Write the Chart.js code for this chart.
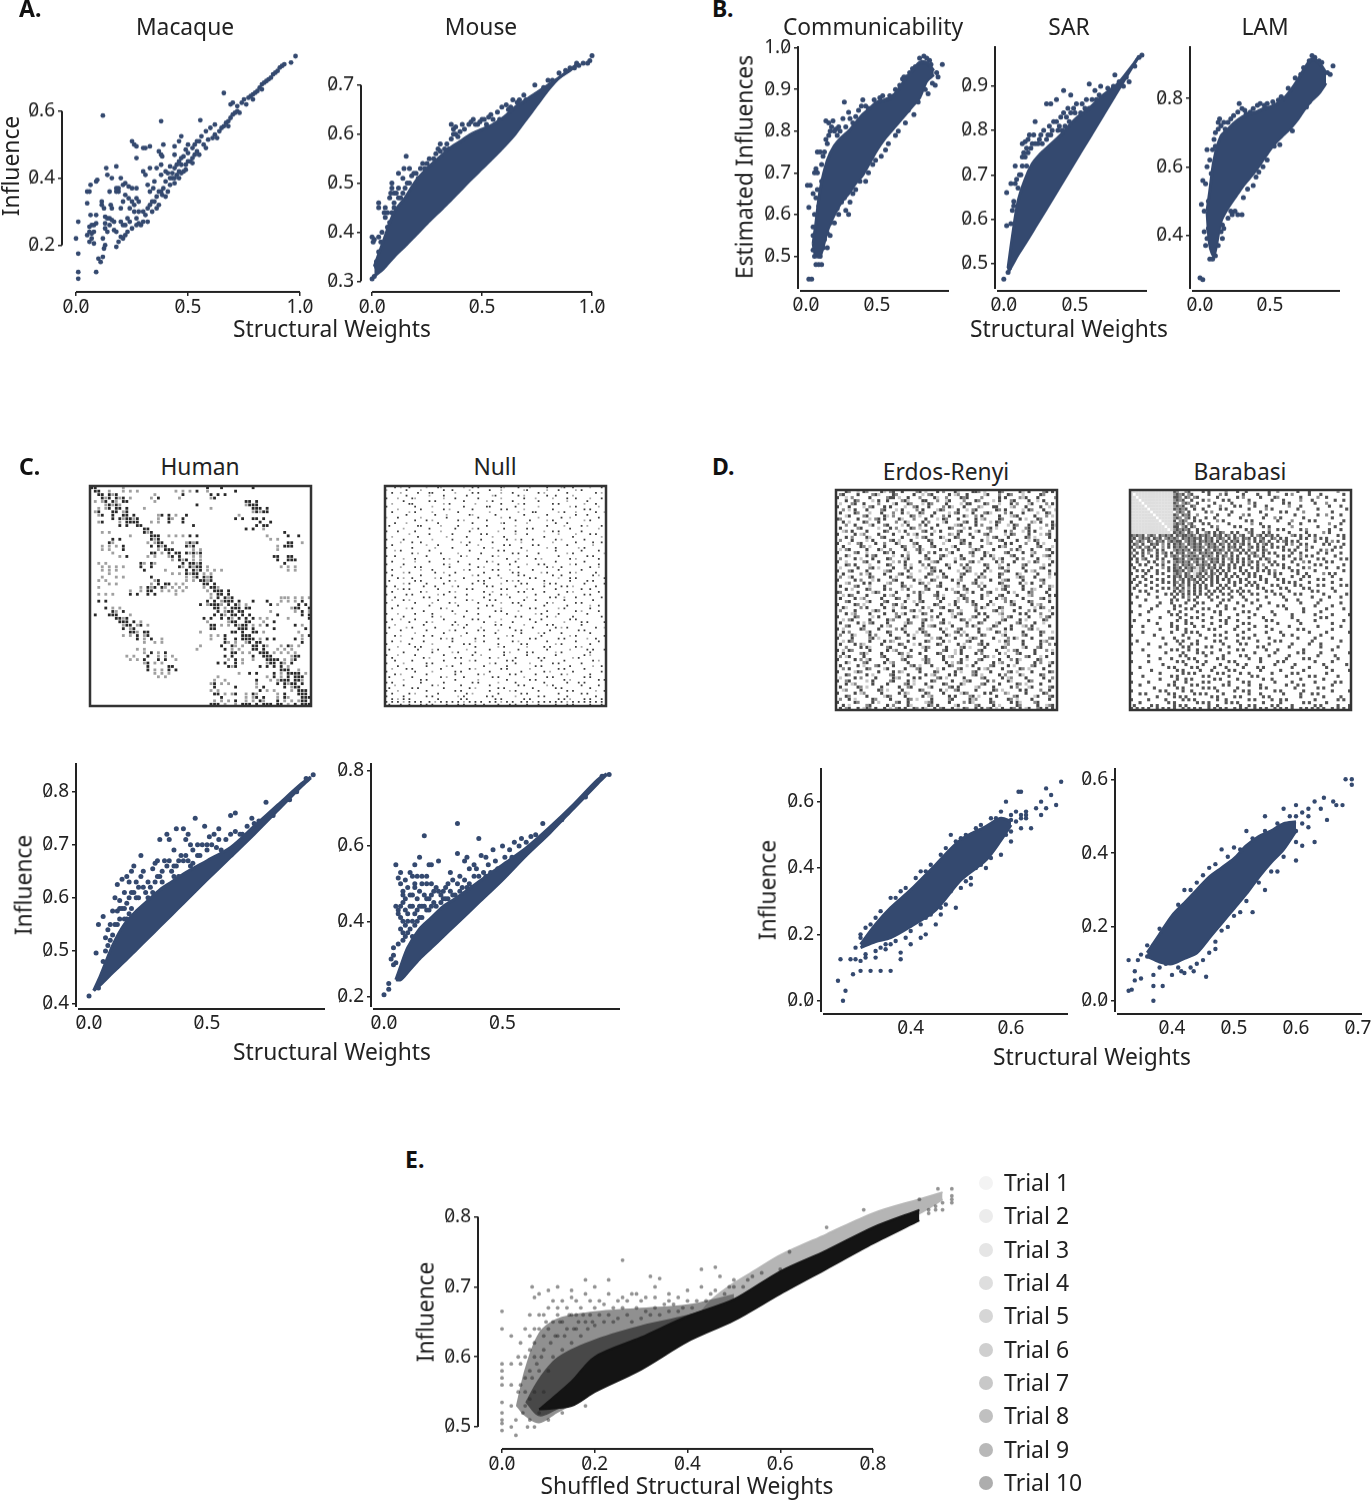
<!DOCTYPE html>
<html>
<head>
<meta charset="utf-8">
<script src="https://cdn.jsdelivr.net/npm/chart.js@4/dist/chart.umd.js"></script>
<style>
  html, body { margin: 0; background: #fff; }
  #page { position: relative; width: 1371px; height: 1500px; overflow: hidden; font-family: "Noto Sans", sans-serif; color: #222; }
  #page canvas { position: absolute; }
  .txt { position: absolute; white-space: nowrap; transform: translate(-50%, -50%); font-size: 22.8px; line-height: 1; }
  .tag { position: absolute; font-size: 23px; font-weight: 700; line-height: 1; color: #111; }
  .dot { position: absolute; width: 14px; height: 14px; border-radius: 50%; }
  .trial { position: absolute; font-size: 23px; line-height: 1; }
</style>
</head>
<body>
<div id="page"></div>
<script>
/* ---- panel A ---- */
const macaquePoints = [[.01,.27],[0,.22],[.01,.175],[.01,.12],[.01,.1],[.09,.12],[.1,.16],[.11,.15],[.12,.165],[.125,.19],[.13,.2],[.05,.23],[.06,.24],[.07,.235],[.08,.24],[.06,.21],[.07,.22],[.08,.205],[.12,.22],[.06,.255],[.07,.26],[.08,.26],[.09,.265],[.065,.29],[.09,.29],[.05,.325],[.05,.36],[.06,.36],[.065,.38],[.09,.39],[.095,.395],[.115,.33],[.115,.32],[.125,.31],[.13,.285],[.14,.28],[.15,.28],[.13,.265],[.13,.25],[.14,.24],[.15,.26],[.16,.275],[.17,.27],[.17,.245],[.18,.24],[.16,.31],[.155,.32],[.15,.36],[.135,.43],[.14,.41],[.16,.4],[.18,.435],[.2,.4],[.18,.37],[.19,.36],[.19,.37],[.18,.36],[.2,.27],[.21,.26],[.22,.26],[.23,.28],[.24,.27],[.2,.225],[.21,.22],[.22,.23],[.23,.24],[.18,.195],[.19,.21],[.2,.31],[.21,.33],[.22,.35],[.21,.38],[.22,.385],[.235,.375],[.25,.37],[.27,.37],[.235,.34],[.25,.33],[.26,.32],[.27,.34],[.28,.33],[.24,.31],[.26,.30],[.27,.28],[.28,.265],[.29,.26],[.3,.3],[.31,.29],[.32,.27],[.33,.32],[.34,.3],[.35,.33],[.36,.31],[.37,.32],[.33,.36],[.345,.37],[.32,.38],[.35,.39],[.37,.36],[.385,.35],[.4,.345],[.39,.37],[.41,.36],[.42,.38],[.4,.39],[.43,.40],[.44,.385],[.45,.41],[.46,.4],[.47,.415],[.48,.42],[.49,.44],[.5,.45],[.51,.45],[.52,.46],[.53,.47],[.54,.48],[.47,.44],[.5,.475],[.52,.49],[.38,.41],[.4,.42],[.42,.435],[.36,.43],[.38,.44],[.33,.43],[.31,.41],[.3,.42],[.27,.46],[.25,.51],[.26,.50],[.27,.495],[.3,.49],[.31,.49],[.33,.495],[.38,.47],[.37,.48],[.385,.465],[.39,.5],[.44,.495],[.46,.51],[.47,.525],[.44,.47],[.49,.485],[.12,.587],[.38,.57],[.555,.573],[.66,.654],[.56,.525],[.58,.54],[.6,.55],[.62,.56],[.55,.51],[.57,.5],[.59,.515],[.61,.52],[.62,.53],[.64,.54],[.65,.55],[.66,.555],[.67,.565],[.68,.57],[.69,.58],[.7,.59],[.71,.595],[.72,.6],[.69,.62],[.7,.625],[.72,.615],[.74,.625],[.75,.635],[.77,.64],[.78,.645],[.79,.65],[.8,.655],[.81,.66],[.82,.67],[.83,.68],[.84,.685],[.85,.69],[.86,.695],[.87,.7],[.88,.71],[.89,.715],[.9,.72],[.91,.73],[.92,.735],[.93,.74],[.96,.745],[.98,.764],[.41,.415],[.42,.40],[.43,.415],[.44,.43],[.45,.44],[.46,.45],[.47,.46],[.48,.465],[.5,.5],[.54,.51],[.53,.5],[.83,.665],[.79,.635],[.76,.62],[.73,.595],[.68,.555],[.63,.52],[.58,.49],[.52,.445],[.55,.47],[.49,.425],[.46,.42],[.44,.4],[.34,.33],[.36,.345],[.38,.36],[.3,.27],[.32,.31],[.28,.3],[.25,.25],[.27,.26]];
const mouseBandX = [.01,.05,.1,.15,.2,.25,.3,.35,.4,.45,.5,.55,.6,.65,.7,.75,.8,.85,.9,.94];
const mouseTop = [.33,.38,.44,.47,.505,.53,.55,.57,.585,.6,.61,.62,.635,.655,.67,.685,.7,.715,.732,.745];
const mouseBottom = [.31,.325,.35,.372,.395,.418,.44,.462,.485,.508,.53,.552,.575,.6,.63,.66,.69,.715,.73,.745];
const mousePoints = [[0,.305],[.01,.31],[0,.39],[.01,.385],[.005,.38],[.03,.39],[.04,.38],[.03,.36],[.045,.40],[.06,.43],[.055,.44],[.03,.45],[.03,.46],[.09,.5],[.09,.49],[.085,.48],[.1,.46],[.1,.45],[.12,.47],[.13,.47],[.14,.46],[.13,.44],[.09,.44],[.12,.52],[.14,.51],[.145,.53],[.155,.555],[.17,.53],[.18,.515],[.15,.49],[.2,.52],[.21,.51],[.24,.53],[.25,.54],[.28,.55],[.3,.57],[.31,.565],[.33,.55],[.35,.57],[.36,.59],[.37,.61],[.36,.62],[.38,.6],[.39,.595],[.4,.605],[.42,.61],[.45,.625],[.46,.63],[.47,.62],[.5,.63],[.52,.62],[.54,.64],[.58,.63],[.62,.65],[.66,.665],[.67,.67],[.7,.67],[.72,.665],[.76,.68],[.78,.695],[.82,.71],[.88,.73],[.94,.74],[.99,.75],[1,.76],[.27,.53],[.18,.47],[.16,.46],[.22,.5],[.11,.42],[.08,.42],[.06,.38],[.05,.35],[.02,.34],[.02,.33],[.98,.745],[.96,.745],[.92,.735],[.43,.59],[.32,.55],[.26,.52],[.06,.45],[.07,.44],[.08,.47],[.1,.48],[.11,.48],[.12,.49],[.14,.48],[.16,.5],[.17,.5],[.19,.52],[.22,.53],[.23,.54],[.26,.55],[.29,.56],[.31,.58],[.33,.57],[.34,.58],[.37,.6],[.38,.615],[.41,.62],[.44,.62],[.48,.62],[.49,.625],[.51,.63],[.53,.635],[.55,.63],[.57,.645],[.59,.655],[.61,.66],[.63,.655],[.64,.67],[.69,.68],[.74,.7],[.8,.71],[.85,.725],[.9,.735],[.93,.745],[.08,.38],[.04,.35],[.07,.41],[.03,.33]];

/* ---- panel B ---- */
const commBandX = [.05,.07,.1,.15,.2,.25,.3,.35,.4,.45,.5,.55,.6,.65,.7,.75,.8,.85,.9];
const commTop = [.53,.58,.66,.73,.765,.785,.8,.82,.84,.855,.87,.875,.88,.9,.925,.945,.965,.965,.945];
const commBottom = [.53,.5,.5,.56,.6,.63,.65,.675,.695,.725,.755,.78,.8,.82,.84,.86,.88,.92,.935];
const commPoints = [[.02,.445],[.04,.445],[.09,.48],[.11,.48],[.07,.48],[.06,.5],[.05,.515],[.05,.55],[.05,.57],[.02,.617],[.03,.67],[.01,.67],[.05,.65],[.06,.7],[.07,.71],[.08,.7],[.08,.75],[.1,.75],[.11,.72],[.13,.75],[.14,.78],[.14,.825],[.19,.825],[.16,.82],[.18,.81],[.16,.79],[.2,.8],[.22,.79],[.23,.81],[.27,.87],[.3,.845],[.31,.83],[.33,.82],[.26,.83],[.4,.875],[.39,.86],[.46,.85],[.5,.86],[.57,.875],[.62,.885],[.68,.925],[.71,.93],[.75,.95],[.8,.975],[.83,.98],[.87,.97],[.92,.94],[.96,.96],[.91,.91],[.86,.89],[.79,.87],[.72,.85],[.65,.8],[.56,.755],[.47,.72],[.44,.7],[.38,.68],[.36,.69],[.33,.65],[.3,.6],[.27,.64],[.25,.63],[.22,.615],[.19,.6],[.17,.58],[.15,.555],[.17,.55],[.13,.54],[.12,.52],[.09,.52],[.08,.56],[.06,.6],[.07,.64],[.08,.66],[.09,.62],[.11,.68],[.12,.74],[.15,.77],[.17,.8],[.21,.805],[.24,.8],[.28,.81],[.35,.835],[.37,.85],[.42,.86],[.44,.855],[.48,.875],[.52,.88],[.54,.885],[.59,.885],[.63,.9],[.66,.91],[.69,.93],[.73,.94],[.77,.955],[.82,.965],[.85,.975],[.88,.96],[.93,.93],[.89,.915],[.84,.9],[.76,.84],[.7,.82],[.63,.79],[.58,.77],[.53,.74],[.49,.73],[.42,.68],[.35,.66],[.31,.63],[.28,.61],[.23,.6],[.2,.58],[.15,.52],[.1,.5],[.11,.53],[.14,.57],[.07,.55]];
const sarBandX = [.03,.06,.1,.15,.2,.25,.3,.4,.5,.6,.7,.8,.9,.94];
const sarTop = [.49,.56,.64,.69,.725,.745,.76,.79,.825,.85,.88,.905,.945,.963];
const sarBottom = [.48,.497,.52,.545,.571,.598,.624,.677,.73,.783,.836,.889,.942,.963];
const sarPoints = [[0,.465],[.03,.48],[.04,.49],[.02,.585],[.02,.66],[.05,.59],[.06,.62],[.07,.64],[.07,.63],[.05,.68],[.08,.68],[.08,.72],[.12,.70],[.13,.72],[.11,.70],[.16,.72],[.15,.74],[.13,.77],[.15,.775],[.17,.78],[.18,.79],[.16,.76],[.22,.82],[.21,.79],[.24,.77],[.28,.75],[.3,.78],[.32,.81],[.3,.86],[.33,.86],[.37,.87],[.42,.89],[.47,.88],[.5,.84],[.55,.86],[.6,.905],[.64,.89],[.67,.88],[.71,.87],[.78,.925],[.84,.9],[.88,.91],[.95,.965],[.97,.97],[.92,.945],[.4,.83],[.42,.84],[.44,.83],[.46,.82],[.48,.81],[.52,.82],[.56,.83],[.38,.8],[.35,.82],[.28,.8],[.26,.79],[.44,.79],[.36,.76],[.6,.85],[.75,.885],[.58,.87],[.09,.69],[.1,.67],[.13,.74],[.14,.75],[.17,.75],[.19,.76],[.2,.77],[.22,.77],[.25,.78],[.27,.77],[.31,.79],[.33,.79],[.34,.8],[.37,.82],[.39,.81],[.41,.8],[.43,.81],[.45,.85],[.47,.84],[.49,.85],[.51,.86],[.54,.84],[.57,.85],[.59,.84],[.62,.87],[.65,.87],[.68,.9],[.73,.895],[.77,.9],[.81,.91],[.86,.92]];
const lamBandX = [.05,.07,.1,.15,.2,.25,.3,.35,.4,.45,.5,.55,.6,.65,.7,.75,.8,.85,.9];
const lamTop = [.47,.53,.62,.69,.71,.73,.745,.755,.76,.77,.775,.785,.8,.825,.855,.89,.915,.905,.875];
const lamBottom = [.47,.37,.34,.44,.48,.51,.54,.565,.59,.62,.65,.675,.695,.715,.74,.77,.795,.815,.845];
const lamPoints = [[0,.275],[.02,.27],[.07,.33],[.09,.33],[.11,.34],[.04,.37],[.03,.41],[.05,.39],[.03,.47],[.01,.49],[.02,.56],[.04,.55],[.05,.6],[.05,.65],[.07,.62],[.09,.65],[.11,.66],[.13,.71],[.13,.73],[.15,.72],[.18,.71],[.2,.73],[.28,.785],[.3,.77],[.33,.755],[.36,.76],[.41,.78],[.46,.78],[.56,.795],[.6,.8],[.67,.82],[.72,.87],[.78,.91],[.82,.92],[.85,.91],[.95,.895],[.91,.875],[.88,.84],[.78,.79],[.7,.76],[.62,.72],[.53,.66],[.45,.6],[.42,.585],[.38,.545],[.34,.535],[.3,.46],[.27,.46],[.25,.47],[.23,.46],[.2,.45],[.16,.43],[.17,.42],[.16,.39],[.13,.37],[.12,.43],[.06,.5],[.08,.58],[.1,.68],[.11,.7],[.14,.74],[.17,.73],[.22,.74],[.24,.75],[.27,.76],[.32,.765],[.38,.77],[.43,.785],[.48,.785],[.52,.79],[.58,.805],[.63,.83],[.68,.86],[.74,.89],[.8,.925],[.87,.905],[.93,.87],[.84,.83],[.76,.775],[.66,.705],[.57,.665],[.48,.62],[.4,.57],[.31,.51],[.22,.47],[.15,.41],[.09,.37],[.06,.42],[.11,.39],[.13,.43]];

/* ---- panel C ---- */
const humanBandX = [.02,.05,.1,.15,.2,.25,.3,.35,.4,.5,.6,.7,.8,.9,.94];
const humanTop = [.425,.455,.51,.55,.575,.595,.615,.63,.645,.67,.695,.735,.775,.815,.828];
const humanBottom = [.425,.437,.459,.48,.502,.524,.546,.568,.59,.634,.677,.72,.765,.81,.826];
const humanPoints = [[0,.415],[.04,.43],[.03,.496],[.04,.55],[.06,.565],[.08,.54],[.07,.525],[.1,.575],[.12,.575],[.11,.6],[.13,.595],[.12,.625],[.14,.635],[.16,.64],[.18,.65],[.19,.66],[.17,.63],[.22,.68],[.15,.61],[.18,.58],[.17,.57],[.16,.56],[.2,.6],[.22,.64],[.27,.655],[.28,.665],[.3,.71],[.29,.67],[.33,.72],[.34,.71],[.36,.69],[.37,.73],[.4,.73],[.42,.72],[.41,.71],[.45,.75],[.49,.735],[.48,.7],[.5,.69],[.53,.72],[.55,.71],[.6,.755],[.62,.76],[.65,.72],[.7,.74],[.75,.78],[.78,.755],[.85,.785],[.92,.825],[.95,.832],[.88,.8],[.32,.67],[.36,.66],[.4,.67],[.43,.66],[.45,.64],[.3,.64],[.27,.61],[.25,.6],[.38,.64],[.5,.7],[.56,.69],[.6,.72],[.09,.55],[.1,.53],[.13,.56],[.14,.58],[.15,.58],[.19,.61],[.21,.62],[.23,.62],[.25,.63],[.28,.63],[.31,.65],[.33,.66],[.35,.65],[.37,.66],[.39,.68],[.41,.68],[.44,.69],[.46,.7],[.47,.68],[.52,.7],[.54,.695],[.58,.71],[.62,.725],[.64,.72],[.67,.735],[.69,.75],[.72,.745],[.55,.73],[.51,.715],[.43,.7],[.06,.48],[.07,.5],[.08,.51],[.09,.52],[.11,.55],[.12,.55],[.13,.58],[.15,.56],[.16,.59],[.17,.6],[.18,.61],[.2,.63],[.21,.6],[.23,.65],[.24,.61],[.26,.62],[.29,.64],[.31,.63],[.34,.67],[.36,.64],[.38,.67],[.42,.67],[.44,.665],[.46,.68]];
const nullBandX = [.05,.07,.1,.15,.2,.25,.3,.4,.5,.6,.7,.8,.9,.94];
const nullTop = [.245,.28,.33,.38,.41,.44,.46,.505,.55,.595,.65,.71,.775,.792];
const nullBottom = [.245,.245,.265,.3,.33,.36,.39,.45,.51,.575,.635,.7,.765,.79];
const nullPoints = [[0,.205],[.02,.22],[.02,.235],[.05,.55],[.06,.43],[.06,.42],[.05,.44],[.06,.515],[.07,.53],[.07,.5],[.08,.47],[.08,.48],[.09,.46],[.08,.45],[.09,.43],[.1,.42],[.11,.53],[.12,.52],[.13,.55],[.13,.5],[.14,.52],[.15,.57],[.16,.52],[.17,.627],[.18,.5],[.19,.55],[.2,.55],[.21,.48],[.23,.56],[.25,.48],[.27,.5],[.28,.53],[.31,.58],[.31,.66],[.34,.56],[.35,.57],[.36,.54],[.38,.55],[.4,.62],[.41,.575],[.43,.57],[.46,.59],[.47,.56],[.5,.6],[.53,.59],[.55,.61],[.58,.62],[.62,.625],[.67,.66],[.75,.67],[.85,.73],[.92,.785],[.95,.79],[.06,.34],[.04,.33],[.04,.31],[.05,.29],[.07,.38],[.08,.35],[.09,.39],[.1,.37],[.12,.44],[.14,.46],[.16,.44],[.19,.46],[.22,.44],[.24,.45],[.27,.46],[.3,.47],[.33,.49],[.04,.285],[.03,.3],[.08,.4],[.11,.44],[.12,.47],[.13,.49],[.15,.48],[.16,.5],[.17,.47],[.18,.52],[.2,.5],[.22,.49],[.24,.47],[.26,.49],[.29,.51],[.31,.5],[.32,.52],[.34,.51],[.36,.5],[.38,.52],[.39,.54],[.42,.53],[.44,.55],[.45,.53],[.48,.54],[.51,.57],[.54,.57],[.57,.6],[.6,.61],[.64,.63],[.1,.49],[.11,.47],[.09,.51],[.14,.43],[.2,.47],[.07,.44],[.07,.41],[.08,.37],[.09,.36],[.1,.4],[.11,.38],[.12,.4],[.12,.36],[.13,.42],[.13,.39],[.14,.4],[.15,.44],[.15,.41],[.16,.41],[.17,.44],[.18,.43],[.18,.46],[.19,.43],[.2,.44],[.21,.45],[.23,.48],[.25,.46],[.26,.46],[.28,.48],[.29,.47],[.32,.48],[.35,.49],[.37,.49],[.4,.52],[.43,.52]];

/* ---- panel D ---- */
const erdosBandX = [.3,.33,.36,.4,.45,.5,.55,.58,.6];
const erdosTop = [.17,.23,.28,.334,.41,.485,.525,.55,.54];
const erdosBottom = [.16,.178,.19,.224,.274,.364,.424,.484,.53];
const erdosPoints = [[.255,.06],[.26,.125],[.28,.125],[.29,.125],[.27,.03],[.265,0],[.285,.08],[.3,.09],[.3,.12],[.31,.14],[.29,.16],[.3,.19],[.33,.13],[.32,.09],[.34,.09],[.36,.09],[.38,.125],[.38,.145],[.34,.16],[.32,.23],[.35,.155],[.36,.17],[.4,.17],[.39,.19],[.42,.19],[.43,.2],[.45,.23],[.46,.26],[.49,.28],[.52,.35],[.55,.4],[.58,.44],[.6,.48],[.62,.52],[.64,.52],[.66,.56],[.65,.58],[.67,.58],[.66,.6],[.67,.64],[.7,.66],[.68,.62],[.69,.59],[.615,.63],[.62,.63],[.63,.57],[.6,.56],[.59,.6],[.56,.55],[.53,.52],[.48,.5],[.42,.39],[.38,.33],[.36,.31],[.33,.25],[.3,.2],[.31,.22],[.34,.27],[.37,.31],[.39,.34],[.41,.37],[.43,.39],[.44,.41],[.46,.44],[.47,.46],[.49,.48],[.5,.49],[.51,.5],[.52,.5],[.54,.53],[.57,.55],[.58,.57],[.61,.57],[.63,.55],[.62,.56],[.6,.51],[.57,.47],[.56,.43],[.54,.41],[.52,.37],[.5,.34],[.47,.29],[.44,.26],[.42,.23],[.4,.21],[.37,.18],[.35,.17],[.33,.15],[.31,.13],[.43,.25],[.46,.28],[.48,.33],[.51,.36],[.53,.4],[.61,.54],[.62,.55],[.63,.56],[.6,.545],[.59,.53],[.59,.5]];
const baraBandX = [.36,.38,.4,.42,.44,.46,.48,.5,.52,.54,.56,.58,.6];
const baraTop = [.13,.18,.23,.265,.3,.335,.36,.385,.42,.445,.46,.48,.485];
const baraBottom = [.12,.105,.1,.115,.13,.17,.21,.25,.29,.335,.375,.41,.46];
const baraPoints = [[.33,.11],[.345,.11],[.34,.08],[.34,.055],[.35,.06],[.335,.03],[.33,.027],[.37,0],[.37,.04],[.385,.04],[.37,.07],[.38,.09],[.4,.07],[.415,.08],[.42,.075],[.435,.08],[.455,.065],[.44,.1],[.46,.13],[.47,.16],[.49,.2],[.51,.24],[.53,.24],[.55,.3],[.57,.35],[.6,.38],[.61,.42],[.63,.43],[.65,.49],[.66,.54],[.645,.55],[.665,.53],[.675,.53],[.68,.6],[.69,.6],[.69,.585],[.62,.5],[.6,.53],[.58,.52],[.55,.5],[.52,.46],[.48,.41],[.44,.32],[.42,.3],[.38,.195],[.36,.15],[.47,.37],[.5,.415],[.35,.125],[.36,.12],[.37,.15],[.39,.2],[.41,.26],[.43,.3],[.45,.34],[.46,.36],[.49,.39],[.51,.41],[.53,.44],[.55,.46],[.57,.48],[.59,.5],[.61,.51],[.63,.54],[.64,.52],[.62,.47],[.6,.43],[.58,.39],[.56,.35],[.54,.32],[.52,.27],[.5,.23],[.48,.19],[.47,.14],[.45,.11],[.43,.09],[.41,.09],[.39,.1],[.47,.2],[.45,.17],[.61,.48],[.6,.46],[.62,.52],[.6,.5]];

/* ---- panel E ---- */
const trials = ["Trial 1","Trial 2","Trial 3","Trial 4","Trial 5","Trial 6","Trial 7","Trial 8","Trial 9","Trial 10"];
const trialColors = ["#f3f3f3","#ececec","#e5e5e5","#dedede","#d6d6d6","#cfcfcf","#c8c8c8","#c0c0c0","#b8b8b8","#adadad"];
const cloudOuterX = [.03,.05,.08,.12,.2,.3,.4,.5];
const cloudOuterTop = [.53,.585,.635,.655,.665,.67,.675,.69];
const cloudOuterBottom = [.53,.515,.505,.52,.55,.585,.625,.665];
const cloudInnerX = [.05,.08,.12,.2,.3,.4,.45];
const cloudInnerTop = [.535,.57,.6,.625,.645,.66,.67];
const cloudInnerBottom = [.535,.515,.525,.55,.585,.625,.645];
const coreX = [.08,.15,.2,.3,.4,.5,.6,.7,.8,.9];
const coreTop = [.525,.565,.6,.628,.658,.682,.722,.752,.785,.81];
const coreBottom = [.525,.53,.55,.582,.622,.652,.69,.726,.762,.795];
const greyBandX = [.42,.45,.5,.55,.6,.7,.8,.9,.95];
const greyTop = [.655,.68,.705,.725,.745,.775,.805,.825,.835];
const greyBottom = [.655,.665,.68,.7,.715,.75,.78,.805,.825];
const trialPoints = [[0,.495],[0,.505],[0,.51],[0,.52],[0,.535],[0,.56],[0,.57],[0,.58],[0,.59],[0,.64],[0,.665],[.02,.5],[.02,.53],[.02,.56],[.02,.59],[.02,.63],[.03,.488],[.03,.51],[.035,.55],[.035,.6],[.04,.62],[.05,.64],[.06,.66],[.07,.685],[.08,.69],[.065,.7],[.1,.695],[.12,.7],[.15,.695],[.18,.71],[.2,.7],[.23,.71],[.26,.738],[.28,.69],[.32,.715],[.34,.712],[.33,.7],[.36,.69],[.4,.695],[.43,.7],[.43,.725],[.46,.728],[.47,.715],[.49,.7],[.5,.71],[.53,.71],[.56,.72],[.6,.725],[.62,.75],[.7,.785],[.78,.81],[.92,.805],[.92,.81],[.935,.81],[.935,.815],[.95,.82],[.95,.81],[.97,.82],[.97,.825],[.97,.83],[.94,.84],[.97,.84],[.9,.825],[.07,.64],[.09,.66],[.12,.66],[.16,.68],[.2,.67],[.25,.68],[.3,.68],[.36,.68],[.05,.53],[.07,.5],[.1,.51],[.13,.52],[.18,.53],[.04,.56],[.04,.59],[.05,.57],[.05,.6],[.06,.54],[.06,.58],[.06,.61],[.06,.63],[.07,.55],[.07,.6],[.07,.62],[.08,.52],[.08,.58],[.08,.64],[.08,.66],[.09,.55],[.09,.61],[.09,.63],[.1,.58],[.1,.64],[.1,.67],[.11,.6],[.11,.65],[.11,.68],[.12,.63],[.12,.67],[.13,.61],[.13,.65],[.13,.68],[.14,.64],[.14,.67],[.15,.62],[.15,.66],[.15,.685],[.16,.64],[.16,.66],[.17,.63],[.17,.67],[.18,.65],[.18,.69],[.19,.66],[.19,.68],[.2,.645],[.21,.66],[.21,.68],[.22,.65],[.22,.675],[.23,.66],[.23,.69],[.24,.65],[.24,.67],[.25,.655],[.26,.67],[.26,.685],[.27,.66],[.27,.68],[.28,.65],[.29,.67],[.29,.69],[.3,.655],[.31,.665],[.31,.685],[.32,.66],[.33,.67],[.33,.685],[.34,.66],[.35,.675],[.36,.665],[.37,.675],[.38,.665],[.38,.685],[.39,.67],[.4,.68],[.41,.67],[.42,.68],[.44,.68],[.45,.69],[.46,.695],[.48,.69],[.5,.7],[.52,.7],[.54,.715],[.045,.52],[.05,.55],[.055,.5],[.06,.51],[.065,.57],[.075,.59],[.085,.6],[.095,.65],[.105,.62],[.115,.63],[.125,.65],[.135,.63],[.145,.66],[.155,.64],[.165,.65],[.175,.66],[.185,.64],[.195,.65]];

/* ---- matrices (one string per row: . none, - light, + mid, # dark) ---- */
const humanRows = [
"##.......+.......................#...#........#",
".##..+...+.+.+..........+.+.+.#..+.......#",
"..##.#+#..........+.......#.......#.#.#",
"...#+#.#+#.+.....+.#.....+........+#",
".+.+#.#+.##.......+.........................##.#",
"....+#+#+.....................#.............+###",
"..+.+#.##.#....+..................+...........###.#",
".+#...##.+#...................................+#+##",
"..+#..#..##.#......+#.#.+..#..............+...",
"......#.#+##+#.....+..#+..#..............#.#..##.#",
"..+#....+.####...+.+..#...#.....................#..#",
"........#.#..##..............#.................#.##",
"...............##...........................#.#..+.....",
"...+.+.........#+#.....................................#",
"...........+.....###..+.+.+.#.#...................+.....#..#",
"......#.#........#+#...............................+.+",
".....#+.........+.+##..+...+#+#.........................##..+",
"...+.+.+.#.......#.#+#.....#+#.......................+.###",
"...+.+...#.........+.###.....+.+.....................+..",
"......+..........##.+.#.##.#+#+#...........................",
"........+.#.....+.+...+#.#...+.+....................##..##",
".......................+.#+#.+.+.....................#..###",
"..+.+.........#+.#+.......#.##+#.......................#..",
"...+.+.+.+....#..#.......#+.#+##.+....................+.+.+",
"...+.+.+.......#.....+.....#.#+#.+.+.+..................+.+",
".....+.................+.+.#+##.+.+.....................",
"...+...+.+.......#.........+.+#.#+#...........................",
"..+.+.............+#.......+.+.##+#",
".....+.+.........+.#.##.+.+.....##.#",
"..+...........+.#+#.#+.+.+.+....+.##+",
"...........+..+.##..+.+.+.+......+.###.#",
"..+.+.+....#.#..#.#.....+.........+.##.#",
"..................................+.#.#+#.............+++.+.+.+",
"..#.#............................#.#.+###.#...#...#...+.+.+.#",
"...............................#.+###+.#.#+.+......#.+.....#.#",
"....#.+.+..........................##.+.###.##...........+##..#",
"......#+.#..........................#.+##.##.......+......+.#.+",
".#...###...+.......................#.#+.##.#.#.......#......#.#",
".......##+#.....................#.#..#.#+.#.#.#.+.+.....+.....#",
"........###.#.+..................+.....+##..##...+..#..........",
".........+##.+#.+.................##.+.+.#+##.+.+.#.......#.+",
".........#.+#.....................##......###.#.....#........#",
"...........##+.##..............+........##.#..##.+.........+..",
".........+.+.#.+#.................+.+.#....###..............+.#",
".............#.+.#..+.............+...#..#.####.+.#.#.....#.+.",
"...............+..+.+.................#+.+..+#.##...........#",
"...............................+.....#..#+.+..##.#+...+.#+.+",
".............+.+..............+.......#.+.+...##.#...+.+.+..",
"...............+.#.+.#..................##.+.+..###.+.+.+.+",
"..........+.+...#..+.+.+..............#.#.....#..###.....+##",
"...........+.+.#...#.#..+..............+.#.+..+...####.+.+#",
"...............+#.+.+...............#.#..#.+......+##.#+.#.",
"................#.....##...............#+#......#.#.#.#.+..",
"................#.+.+.#.#.............................###..+",
"..................+.+.+...................+..#.#....#.+.####.+",
"...................+.+..............+.............+.#.+.#.###.",
"...................................+..+........#...+.+###.##+",
"..................................+#.+.+.......+.....#.#+##.#",
"...................................#.....#.....+.#.....#.+##.",
"..................................+.+...........#.+.+....+.###",
"...................................##.+.+#..+.#+.....+.#...###",
".....................................#......+.+#.#...+.#+...###",
"...................................+.+.+.#..+.+.#+...#.+.+.+##",
"..................................###.+..+.###.#.###.##.+.#.###"];
const nullRows = [
"...#.+..#.....+...#+.......+..#.#.......#+....#...+.....#....+#..#.....+...#.",
"+......#....+.......#..#.....+......#...+.......+#......+...#.....+.#........",
"..#..+.....#...##.......+.....#.#.......+...#........#.+.......#.........#.+.",
".......#.......+....#.......#........+#.......#.+.......#..#.....+...........",
"#...+....#+.........+...#.......#.......+.......#...+.....+....#..#....+...#.",
"......#........#.#.........#.......+.#......#........#.........+......#......",
"..+.....##..........+.#........+........#.....+.#.........#.#........+...#...",
"#.........#.....+..........#.......##........#.......+..........+.#.......+..",
"....+.......#.......#.+.......#.........#.#.....+.........#..........#.#.....",
"..#.....+.#.....+........#..........+.........+....##.......+.#...+......#..+",
".......#.........#...+.......#+.......#.........#.......#.........#...#......",
"+...#.......+........#..........#.......+..#.........+.......#..+.........#..",
"..........#...#.+........#.+.......#.........#....#.....+.#..........+.#.....",
"...#...+..........#...........#.........+#.......+.........#...#.............",
".#.........##......+.....#.........#.........+..........#.....+.....#.+....#.",
"......+........#........#.....+.#........#.......#.#............#.........+..",
"#...#.....#........+.........#.........+.....#.........+..#.#.......#........",
"........+......#.......#.........#.#.........+...#..........+.....+....#.#...",
"..+........#.........+......#........+...#.............#.........#.........+.",
"#.....#.........+......#.........#........#..+.#...#.......#.+.......#.......",
".....+...#..#.............+..#.......#.........+..........+.......#.....#..#.",
"..#...........+...#.........#...+........#.#.......#.#.........#........+....",
"#........#.......+.....#..........#..+.........#........+..#.......+.#.......",
"...+.#.........#.............#.........#.#.......+.........#........#.....#..",
".........#.+.......#.....+.......#..........#.#......#.........+.#..........+",
"#..#..........#...........#.+........#.+.........#..........#.........#.#....",
"......+...#.........#.+.........#.........#...+.....#.+.........#.+.......#..",
"..#.......+....#.........#.........#.+.......#.............#.........#.......",
"#.....#.............#.+......#.........#...#.....+...#.#........+.#.......#..",
".....+....#.#.........#.........#.+...........#.........#.+..#.........#..+..",
"..#.........+...#..........+.#.......#.#...+.......#........#.......#........",
"#.....+.#........#..+...#.........#.........#.#.......+.#.......#.+......#...",
"..#.........#.........#.......+.#......#......#.#.........#..#..........#.+..",
"....#.+..#.......+.#.......#........#...+.........#.#.......+...#.#.........#",
".#........#.#.........#.+.......#.#.......#.+.#........#........#.....#.#....",
"......+.#.....#.....#.........#...#.....+......#.#.....+.#.#.........#......#",
"#..#.........#...#.....+.#.........#.#.......#.........#.....#.#.+.......#...",
"....+.#.#.........#.........#.#.........#.#......+.#.......#........#..#.....",
"..#.........#.+.......#.+.........#..+........#.#......#.......#.+........#..",
"#......#.#........+.#.......#.......#...#.+.........#.......#........#.#.....",
"...#.........#.#........#.........#........#.....+.......#.#..+...#........#.",
"..+...#.+.........#.........#.+.....#.#.........#...#.........#.........#....",
"#.........#.....+.....#.+.......#.......+...#.#.........#.+.......#.#........",
"....#..........#.........#.........#.#.........#.......#.......#.......+..#..",
"..#....+.#.........#.+..........#.......+.........#.#.......+.#........#.....",
".............#.........#....#.........#.#.....+.........#.........#.+.....#..",
"#...+.....#.....#.......+.......#.........#.........+.#.....#.........#......",
"......#.........#..+.......#........#........#.#........#..+.....#.........#.",
"..#..+....#.........#.........#.#.......+.........#...#.........#.#..........",
"#.......#.....#.+.......#.........#...+.....#.......#.........+.....#.#.....#",
"...+.........#.........#.+..#.........#.#.......+.......#.#.........#........",
".#.....+.#.......#.........#.....+.........#.......#.......#.+.#.........#..+",
".....#........#.......+.#.......#.#....+.....#.#.........#.........#.#.......",
"#.........+.........#.......#.........#........#.....+.#.....#.........#.....",
"...#.+.......#..#.........+.......#.......+.#.........#.........+.#.........#",
".........#.........#.+.#.......#.......#..........#.#.......#.#.......+..#...",
"..#..+.......#.........#.......+..#.........#.+.........#.........#.......#..",
"#.......#.......+..........#.#.........#.......#.#.........+.#.........#.....",
"....+.....#.#.........#........#.......+.#.......+.....#.#........#.+........",
".#.........#....+.#.........+.......#.........#.........#.......+.....#.#...#",
"......#.........#......+.#.....#.........#.+.....#.#.......+.#.........#.....",
"#...+.....#.........#.........#..+.......#.......#.........#.........#.+.....",
"..#..........#.+........#.#.........#..+.....#.......#.#.........+.#.........",
"...#.....#..........#........+.#..........#.#.........#.......#.........#.+..",
"#.....+.......#.#.........#.........+.#......#....+.......#.#.......#........",
"....#.........#......+.#..........#.......#.........#.#.........#.......+..#.",
"..+....#.#.........#.........#.+........#.#.......+.........#.#......#.......",
"#.........#.....+.......#.#.........#..........#.......#.+.......#.........#.",
"...#.+........#.........#.......#.+........#.#......#........#.+.......#.....",
".#.......#.........#.+.....#.........#.#........+.......#.#..........#.#.....",
"......+.....#.#.........#.......+.........#.......#.#.........#.+.........#.#",
"#.#.........#.......#.........#.#......+.....#.........#.......#...#.#.......",
"...+..#.........#.+.......#.........#.........#.#.......+.#.........#.....#..",
".#.......#.#........#........#.+.......#.#.........#.......#.#.........#.....",
"#...+.........#.........#.#.........#......+.#.......#.........#.#.......+..#",
"..#.....#.+.......#.........#.+........#.......#.#..........#.......#.#......",
"#.....#.......#.#........+.#.......#.#.......+.......#.#.......#.........#...",
"..#.+.#.#.........#.......#.#.........#.#.......#.#.........#.#.+....#.#...#.",
"#.#.#.+.#.#.#..#.+.#.#.#.#.+.#.#.#..#.#.+.#.#..#.#.+.#.#.#.#.#.+.#.#.#.#.#.#",
".#...#..#...#.#.#....#...#.#...#..#....#...#.#...#...#.....#...#.#.....#...#."];
const erdosRows = [
"...#+..-.#+....#-.+#..#....+#.-...#.+...#-....##+.-....#+.....#-.#....+#.#.",
".+#....#....+#-....#+.....#..-.+#.....#.-+..#.....-#...+..#+...-.....#+....",
"#..-.+.....#.....+##.-..#...+....#-..+....#+#....+.....#.#....+-#...#.....+",
"...#..#+....-.#..#....+#-....##...+..-#....+...#+....-.#...+#....#..-.#....",
".-...+#..#....+....-#...#+...-.#+....#....-.##....#+...-...#.+...-#....+.#.",
"#...#....-.+#...#.#....-..+#...#....+.#-...#....+-...##....-+...#....#..-..",
"..+.-.#...#....+#...-.#....+.#....-#+....#..-.+#......#+.#.....-.#+...#...-",
".#....#+...-...#...+..#.-...#+...#....-.+#....#...+#-....+.#...#....-..#+..",
"...-#....+#.....#-.+.....#+.-...#...+.#....#-..+.#.....#...-+#.....#...+.-.",
"#+.....#...-.+#.#....#-...+...#...-.#+...#.....#.-+....#+.....#.-...#+.....",
"..#.-....#+...#.....+..#-....#.+....-#.....+#..#....-.#+...#......+-.#...#.",
"...+..#....-#...+#....-.#...+.#...#.....-+#....#.+....#...-.#+...#.....+.#-",
".#.....+#.....-...#.+....#+.-...#.....#+...-.#.....+#.-.....#...+#...-...#.",
"..-+.#....#.....#+...-.#.....+#..-.#.....+#....-#...+....#.+...-.#.#....+..",
"#.....#.-+....#....#....+.-#....#.....+-.#...#....+#.....-.#+....#...-.+#..",
"...#.+....#-...+#.....#....-.+#....#-...#+....#....-.+#...#.....#+.-....#..",
".+...#....-.#.....+#.-...#.....#+....-#...+#.....#.-...+#....#...-.#+.....#",
"#...-..+#....#..+...#-....+#....#...-.....#+.#.....-+....#.#....+...#.-....",
"..#.....#+.-....#.....#+..-.#...+#.....-#....+...#.....#-+....#.....+#...-.",
".-.+#.....#...#-..+....#...+#-.....#.+...#....-#+....#.....+.#-...#....+#..",
"#.....+#..-.....#+.#....-...#..+.#....-#.....+#...#-.....+#....#..-+.....#.",
"...#-.....#.+#.....-..#.+.....#....+#-....#...+...#.#-.....+#.....#...-+#..",
".+....#.-...#....#+....-#.....+#...#....-.+#.....#...+.-#....#.+....#...-..",
"#..-.....+#...#....-.+.#....#...-+#.....#....+#.-.....#.+...#....-.#+....#.",
"...#+.#....-.....#+....#.-...+.#.....#-...+.#.....#+...-..#....+#.....-.#..",
".-.....#...+#.-....#...+.#....-.#+....#....#-+.....#...+#.-....#.....+#....",
"#...+#....#.....-+#.....#...-...+#.#.....-..#+....#.-....+#.....#.-+....#..",
"..#.....+.-#....#....+#..-.....#+...#.....+#...-.#.....#+....#-.....#...+.#",
".+..-#.....#+.....#.-...#+....#...-.+#....#.....#-+....#.....-#+...#....-..",
"#.....#.+...-.#....+#.....#.-...#+.....#.-+....#....#...-+#....#.....+#....",
"...-+....#.#.....-+...#.....#+.-...#.....#....+#.-.....#+.....#.-.#...+....",
".#....+#...-....#.....#+.-....#...+#.....-.#....+.#.....-#+....#.....#..+-.",
"...#.-....#+....#.+...-.#.....+#.....#.-...+#....#....-.+#.....#..+-....#..",
"#+.....#....-#+.....#.....+.#-....#.....+#..-.#....+#.....#.-....#+....#...",
"..-.#+....#.....#.-+....#...#....+#.-.....#+.....#.-...+#....#...-+.....#.#",
".#....#.-+.....#....#+..-...#.....+.#....-.#+....#....#.-+.....#.....+#.-..",
"...+#.....-#....+#.....#..-.+#.....#....#-..+.#.....#....+.#-....#+.....#..",
"#.....#+.-.....#...+#.-....#.....#+...-.#.....+#...#.-.....+#.....#.-+.....",
"..#-....+.#.....#..-..+#.....#.-...+#....#.....+.#-....#+.....#....-.#+..#.",
".+....#.....-#+....#.....+#.-...#.....#+..-....#.....+#.-...#....+.#....-..",
"...#.-+....#....#...+.-#.....#+....#...-.+#.....#.#....-+.....#.#....+...#.",
"#.....#+....-.#.....+#....#-....+.#....-#.....+#...#....-.+#.....#...-.+#..",
"..-.+#.....#.....#-+....#....+#.-...#.....#+.-....#.....+#....#.-.....#+...",
".#.....#.-.+#....#.....-#+...#.....+#.-.....#...#+....-#.....+#....#..-....",
"...+#....#.....#.-+....#.....#.-+#.....#....+.#-.....#+....#...-+.#.....#..",
"#.-.....#+....#.....+.#-....#+.....#.-...+#.....#..-+....#.#.....+#.-......",
"..#.+.....-#.....#+....#...-.#+.....#...+#.-....#.....#+.-.....#.....#+..-.",
".+...#-....#.+....#.....#.-...+#.....#-...+.#....#+.....-#.....+#....#.....",
"#....#.....+#.-.....#+....#.....-.+#....#....-#+.....#....+.#-....#.....+#.",
"..-.#+.....#....#.+-....#.....#+....#.-.....+#...#.....-.#+....#.....#-+...",
".#....#.+-.....#.....#+...-.#.....#+.....#.-....+#.#.....-+....#.....#..+.#",
"...+....#.#-.....+#....#.....-#+.....#....+#.-....#.....#+.....-#...+#.....",
"#.-.#+.....#.....#.-+....#....#.....+#..-.#.....+#....#...-.+#.....#...+.-.",
"..#.....+#-....#.....#+.-...#.....#+....-.#....#.+.....#.-...+#....#.....#.",
".+.-#....#.....+#.....-.#+....#.....#.-+....#.....#+.-....#.....+#...-.#...",
"#.....#.+.-#.....#....+#.....-#+....#.....#.-...+#.....#...+.#-.....#+.....",
"...#-....+#.....#.-+....#.....#+.....#.-.+#....#.....#.-+....#.....#.+..-#.",
".#.....#.-...+#....#.....+#.-...#.....#+....-.#.....+#....#.-.....+#....#..",
"..+.#.....#+....-#.....#...+#.....-.#....+#.....#.-+....#.....#+.-....#....",
"#.....-#+.....#....#.+-.....#....#+.....#.-...+#....#.....+#.-....#.....#+.",
"...#+.....#.-.....+#....#.....#.-+....#.#.....+#.-.....#.+....#-.....#+....",
".-....#.+....#.....#-+....#.#.....+#.-.....#.....+#.....#.-+....#.....#..+.",
"#..+#.....-.#.....+#....#.-.....#+.....#...-+#.....#.+....#-.....#+.....#..",
"...#.-+.....#....#.....+#.-...#.....#+....#-.....+#....#.....#+.-....#.....",
".#.....#+.-....#.....#..+#.....-#.....+#.#.....-+....#.....#.+...-#.....+#.",
"..-+....#.....#+.-....#.....#+.....#.-..+#.....#.....#+.-.....#.#....+..#..",
"#.....#.-+.....#.....#.+-.....#+....#.....-#+.....#.#....+-.....#.....#+...",
"...#+.....#.....-#+....#.....#.-+.....#.#....+#.-.....#.....+#.....-#...+#.",
".+..#.-.....#+....#.....#+.-....#.....+#.....#-+....#.....#+.-....#.....#..",
"#.....#+....#.-.....+#..#.....-+#.....#....+.#-.....#+.....#.#-....+#......",
"..#.-.....+#.....#.+....#-.....#+.#.....-#.....+#....#.-.....#+.....#..-+#.",
".#.+#..#.-#+.#..#.-.+#.#..#+.#-..#.+#..#.-.#+..#.#.+#.-.#..#+.#.-#..+#.#.#."];
const baraRows = [
"---------------#+..+#....#.#.....+...#..#.......#..+......#...#.........+...",
"-.-------------+#+#.+#.....#...+.#.....#....#...#.....#.+.....#...#.......#.",
"--.------------##+.#+.+#......#......#.+.....#....#+.......#.....+..#.......",
"---.-----------+#+#..#...#.+....#.#......#.......#...#.....+...#.......#..#.",
"----.----------#+.+#+..#.....#.....#.....+.#.........#.#........#...+.......",
"-----.---------+#+#..#+....#...+....#.#....#...#.......+...#.........#...#..",
"------.--------#+#+#..#..#.....#.#.......#.....+.#........#......#.........#",
"-------.-------.+#+.#.....#.+......#.........#......#.#.....+.........#.....",
"--------.------#+.#+#..+......#...#....+.#.....#.........#.......#..+....#..",
"---------.-----+#+.+#.#...#..#........#.......#...+.#.......#.........#.....",
"----------.----#.+#+..#.#.....+.#.......#.#........#....+.....#.#.........#.",
"-----------.---+#+#.+#...#.#......#.......+..#.........#...#.........+...#..",
"------------.--##.+#.#+.....#.+.....#.#.......#.#.......+........#.....#....",
"-------------.-+#+#+#..#.#....#.........#.#.....+..#.#.....#.+.......#...#..",
"--------------.#+#+.#+.#..+#.#.#+..#.#...+#...#.#......#.....#.....+.#......",
"#+#+#.+#+.#+#+#.#+##+#+.#+#+.#+#.#+.#.+#..#.+#.#+#.#....+#.#..#.#.......#.#.",
"+#.+#+#.#+#.+#+#+.#+#+#+#.#+#.+#+.#.#+.#+#.#.+#..#+.#.#....#.#..+.#.#.....#.",
"#.+#+.#+.#+#.+#+##.+#+#.#+#+#.#.+#.#+#.#.+.#.#+.#..#.+#.#.#.....#...#.+.#...",
".#+.#..#+#.+.#.#+#+.#+#+#.+#+#.#+.#.#.+#.#..#.+#.#....#.+..#.#.....#.#....#.",
"#.+#.+#.#..+.#.#+#+#.+#+#+.#+#+.#.#+#.#..+#.#.#..#.#.#....#..+.#.......#.#..",
".#..#.#+.#.#...+#+#+#.#+#.#+.#+#+.#.+#.#.#..#.#+.....#.#.#...#....#.+.#.....",
"+.#.#.+..#.+#.#.#+#.+#+.#+#+#.#+.#.#..#.#.+#..#.#.#.....#..#.....#..#....#..",
".#..#..#.#..#.+#+.#+#+#+.#+#+.#.#+.#.#...#.#+.#....#.#.#...+.#.#.......#....",
"#.#.+#...#.#...##+#.+#+#+#.+#+#.#.+#.#.#.#...#.#+....#...#.#.....#.#.....#.#",
"..#...#.#..+.#.+#+#+#.+#-#+.#+#.#..#.#.#.+#.#...#.#.....#...+.#.....#.#.....",
"#..#.#...#.#...#+.#+#+.#+#+#.#.+#.#.#..#.#..#.+..#.#.#....#.....#.#.......#.",
".#.....#...+.#.#+#.#+#+-+#.#+#.#..#.#.#...#.#..#.....#.#....#.+.....#...#...",
"..#.#.#..#...#.##+#.+#--+#+.#.#.#.#...#.#...#.#.#.+.....#.#.....#.........#.",
"#....#...#.#...+#+.#+.-+#.#.#+.#.#..#..#.#.#....#.#.#.....#..#.....+.#.#....",
"..#.#..#.....#.#+#.#+#-#+#.+#.#..#.#.#...#.#.#....#.....#...#.#.......#.....",
".#...#...#.#...#.+#.#+#.#.#.#.#.#.#...#.#....#.#...#.#.....#.....#.#.....#..",
"#..#...#...#.#.#+.#.#.+#.#..#.#...#.#.#..#.#...#.....#.#.#....#.......#.....",
"..#..#...#.....#.#+.#.#.#.#.#..#.#..#...#.#.#....#.#.....#.#.....#.#.....#.#",
".#.....#...#.#.+#.#.+.#.#.#...#.#.#...#.....#.#.....#.#.....#.#.......#.....",
"...#.#...#.....#.#+.#.#.#..#.#.#...#.#.#.#.....#.#.....#.......#.#.....#....",
"#.....#.....#.#.#.#.#.#.#.#.#...#.#...#...#.#.....#.#....#.#.......#.......#",
"..#......#.....#..#.+..#...#..#....#...#.......#.....#.........#.....#...#...",
".....#........#.#...#.#.....#...#.#.....#...#.........#...#.......#..........",
"#.........#...#....#...#.#.....#.....#....#.....#..........#.....#.......#...",
"...#.....#.....#.#....#.......#..#.....#.....#.....#.#..........#.....#......",
".......#.......#...#.#...#.#.....#..#.......#.........#.....#.......#.....#..",
"#.....#......#...#.....#.....#.#.......#.#.......#..........#.....#..........",
"...#..........#.#..#.....#.....#.....#.....#......#.....#.......#.....#.....#",
"..........#......#...#.#....#.....#......#....#.........#.........#.#........",
".#....#.........#..#.....#.....#.#...#.........#.#........#.....#.........#..",
".........#....#....#.#......#....#.....#.#.........#.......#..........#......",
"#...#.........#.#.....#..#.....#.....#.....#...#.......#.........#.......#...",
"..........#.....#..#.......#.#......#....#.......#........#.#.........#......",
"....#.........#....#.#.#.........#.....#.......#....#.........#.....#.......#",
"#.......#.........#.....#....#.#.....#.....#.........#..#.........#..........",
"...........#...#....#.....#......#.....#.#......#.........#.....#.....#......",
"..#.............#.#....#.....#.#.....#......#.....#.#..........#.........#...",
"#.....#.....#....#...#.#........#.....#.#.......#.......#.....#...#..........",
"..........#.......#.#.....#.#.....#.........#.#........#..........#.....#....",
"....#.........#.#...#..#.......#.....#.#.......#...#........#.........#......",
"#...........#.....#....#.#..#.....#........#......#.......#.#.....#.........#",
"......#..........#.#......#.....#.....#.#.......#......#.........#.....#.....",
"..........#...#.....#.#.......#.#........#...#........#.....#.#.........#....",
"#.....#.........#.#....#..#.......#.#........#.....#.#..........#.....#......",
"...........#.......#.....#.....#.....#..#.........#......#.........#.......#.",
"...#.........#.#.....#.#.....#...#.....#....#.#.........#.....#.....#........",
".......#........#.#.....#...#.....#.#........#......#.......#.........#.....#",
"#.........#.......#.#.#.......#.#.....#..#.......#......#.#.........#........",
"....#.........#.#........#.#......#.......#.#.........#.......#.#.......#....",
"..........#.....#..#.#.......#.#.....#........#..#.........#.......#.........",
"#.....#........#...#.....#.#......#....#.#........#.....#.......#......#.#...",
"...#.........#.#.....#.#........#.#......#...#........#...#.#.........#......",
"........#.......#.#......#.#.#.......#.......#.#.........#.......#.#.........",
"#.........#.#.....#..#........#.....#..#.#........#.#.......#.........#.....#",
"...#.#.......#.#......#.#.#.....#........#...#.......#.....#...#.#...........",
".........#.....#.#.#........#.#.....#.#.......#.#..........#.......#.....#...",
"#.....#.....#.....#.#.#.......#..#.......#.#.....#..#.#.........#.......#.#..",
"...#.........#.#.......#.#.#.....#.#.#........#.....#.......#.#.....#........",
".#.....#.#.....#.#.#.......#..#.......#..#.#.....#.#....#.......#.#.....#...#",
"#.#.#.#..#.#.#.#..#.#.#.#..#.#.#.#..#.#.#..#.#.#..#.#.#.#..#.#.#.#.#..#.#.#.#"];

const tickFont = { family: "Noto Sans", size: 19 };
const page = document.getElementById("page");

// helpers for text that sits outside of one single chart
function label(text, x, y, rotate) {
    const d = document.createElement("div");
    d.className = "txt";
    d.textContent = text;
    d.style.left = x + "px";
    d.style.top = (y - 1) + "px";
    if (rotate) {
        d.style.left = (x + 1) + "px";
        d.style.top = y + "px";
        d.style.transform = "translate(-50%,-50%) rotate(-90deg)";
    }
    page.appendChild(d);
}
function tag(text, x, y) {
    const d = document.createElement("div");
    d.className = "tag";
    d.textContent = text;
    d.style.left = x + "px";
    d.style.top = y + "px";
    page.appendChild(d);
}

// trimmed spines and the slashed zeros of the tick labels
const spines = {
    id: "spines",
    afterDraw(c) {
        const o = c.options.plugins.spines;
        if (!o) return;
        const ctx = c.ctx, sx = c.scales.x, sy = c.scales.y;
        ctx.save();
        ctx.strokeStyle = "#222";
        ctx.lineWidth = 2;
        if (o.box) {
            const a = c.chartArea;
            ctx.lineWidth = 2.5;
            ctx.strokeStyle = "#333";
            ctx.strokeRect(a.left, a.top, a.right - a.left, a.bottom - a.top);
            ctx.restore();
            return;
        }
        const x0 = o.xSpan ? sx.getPixelForValue(o.xSpan[0]) : c.chartArea.left + 2;
        const x1 = o.xSpan ? sx.getPixelForValue(o.xSpan[1]) : c.chartArea.right;
        const y0 = o.ySpan ? sy.getPixelForValue(o.ySpan[0]) : c.chartArea.bottom - 2;
        const y1 = o.ySpan ? sy.getPixelForValue(o.ySpan[1]) : c.chartArea.top;
        ctx.beginPath();
        ctx.moveTo(x0, c.chartArea.bottom); ctx.lineTo(x1, c.chartArea.bottom);
        ctx.moveTo(c.chartArea.left, y0); ctx.lineTo(c.chartArea.left, y1);
        ctx.stroke();
        // the original tick font slashes its zeros
        ctx.font = "19px 'Noto Sans'";
        ctx.lineWidth = 1.1;
        const slash = (text, left, cy) => {
            [...text].forEach((ch, i) => {
                if (ch !== "0") return;
                const a = left + ctx.measureText(text.slice(0, i)).width;
                const w = ctx.measureText("0").width;
                ctx.beginPath();
                ctx.moveTo(a + w * .2, cy + 5.5);
                ctx.lineTo(a + w * .8, cy - 5.5);
                ctx.stroke();
            });
        };
        sx.ticks.forEach(t => {
            const w = ctx.measureText(t.label).width;
            slash(t.label, sx.getPixelForValue(t.value) - w / 2, c.chartArea.bottom + 13.5);
        });
        sy.ticks.forEach(t => {
            const w = ctx.measureText(t.label).width;
            slash(t.label, c.chartArea.left - 7 - w, sy.getPixelForValue(t.value));
        });
        ctx.restore();
    }
};

// pairs of top and bottom outlines, filled between them
function band(xs, top, bottom, color, edge) {
    const line = ys => xs.map((x, i) => ({ x, y: ys[i] }));
    const base = { type: "line", pointRadius: 0, borderColor: color, borderWidth: edge === undefined ? 3 : edge, clip: false, tension: .3 };
    return [
        Object.assign({ data: line(top), fill: "+1", backgroundColor: color }, base),
        Object.assign({ data: line(bottom), fill: false }, base)
    ];
}
function dots(points, color, radius) {
    return {
        type: "scatter",
        data: points.map(p => ({ x: p[0], y: p[1] })),
        backgroundColor: color,
        borderWidth: 0,
        pointRadius: radius,
        clip: false
    };
}

// one axes box at a fixed place on the page
function panel(cfg) {
    const m = { l: 50, r: 24, t: 24, b: 32 };
    const [left, top, right, bottom] = cfg.box;
    const cv = document.createElement("canvas");
    const W = right - left + m.l + m.r, H = bottom - top + m.t + m.b;
    cv.style.left = (left - m.l) + "px";
    cv.style.top = (top - m.t) + "px";
    cv.style.width = W + "px";
    cv.style.height = H + "px";
    cv.width = W; cv.height = H;
    page.appendChild(cv);
    const at = (c, p) => c[0] + (p - c[1]) * (c[2] - c[0]) / (c[3] - c[1]);
    const axis = (side, c, lo, hi, ticks) => ({
        type: "linear",
        min: at(c, lo),
        max: at(c, hi),
        afterBuildTicks: s => { s.ticks = ticks.map(value => ({ value })); },
        afterFit: s => { if (side === "x") s.height = m.b; else s.width = m.l; },
        grid: {
            drawOnChartArea: false,
            drawTicks: side === "y" || cfg.xTickMarks === true,
            tickLength: 4,
            color: "#222",
            lineWidth: 1.5
        },
        border: { display: false },
        ticks: {
            autoSkip: false,
            maxRotation: 0,
            minRotation: 0,
            padding: side === "y" ? 3 : (cfg.xTickMarks ? 0 : 3),
            color: "#222",
            font: tickFont,
            callback: v => v.toFixed(1)
        }
    });
    return new Chart(cv, {
        type: "scatter",
        data: { datasets: cfg.sets },
        plugins: [spines],
        options: {
            responsive: false,
            animation: false,
            events: [],
            layout: { autoPadding: false, padding: { top: m.t, right: m.r, left: 0, bottom: 0 } },
            scales: {
                x: axis("x", cfg.x, left, right, cfg.xt),
                y: axis("y", cfg.y, bottom, top, cfg.yt)
            },
            plugins: {
                legend: { display: false },
                tooltip: { enabled: false },
                spines: { xSpan: cfg.xSpan, ySpan: cfg.ySpan }
            }
        }
    });
}

// adjacency matrix: every filled cell is one square point on a 0..n scale
function matrix(rows, box, radius, colors) {
    const [left, top, right, bottom] = box;
    const cv = document.createElement("canvas");
    const pad = 2;
    const W = right - left + pad * 2, H = bottom - top + pad * 2;
    cv.style.left = (left - pad) + "px";
    cv.style.top = (top - pad) + "px";
    cv.style.width = W + "px";
    cv.style.height = H + "px";
    cv.width = W; cv.height = H;
    page.appendChild(cv);
    const cols = Math.max(...rows.map(r => r.length));
    const sets = Object.keys(colors).map(ch => {
        const data = [];
        rows.forEach((row, r) => [...row].forEach((c, k) => {
            if (c === ch) data.push({ x: k + .5, y: r + .5 });
        }));
        return { data, pointStyle: "rect", pointRadius: radius, borderWidth: 0, backgroundColor: colors[ch] };
    });
    return new Chart(cv, {
        type: "scatter",
        data: { datasets: sets },
        plugins: [spines],
        options: {
            responsive: false,
            animation: false,
            events: [],
            layout: { autoPadding: false, padding: pad },
            scales: {
                x: { type: "linear", display: false, min: 0, max: cols },
                y: { type: "linear", display: false, min: 0, max: rows.length, reverse: true }
            },
            plugins: { legend: { display: false }, tooltip: { enabled: false }, spines: { box: true } }
        }
    });
}

const navy = "#34496f";
const filled = (x, t, b, pts, r) => band(x, t, b, navy).concat([dots(pts, navy, r)]);

panel({ box: [62, 40, 305, 291.7], x: [0, 76, 1, 300], y: [.2, 245, .6, 111], xt: [0, .5, 1], yt: [.2, .4, .6],
    xSpan: [0, 1], ySpan: [.2, .6], xTickMarks: true, sets: [dots(macaquePoints, navy, 2.4)] });
panel({ box: [360.6, 40, 600, 291.7], x: [0, 371.7, 1, 592], y: [.3, 281, .7, 85], xt: [0, .5, 1], yt: [.3, .4, .5, .6, .7],
    xSpan: [0, 1], ySpan: [.3, .7], xTickMarks: true, sets: filled(mouseBandX, mouseTop, mouseBottom, mousePoints, 2.5) });

panel({ box: [798, 46, 949, 290.7], x: [0, 806, .5, 877], y: [.5, 256, 1, 47.7], xt: [0, .5], yt: [.5, .6, .7, .8, .9, 1],
    sets: filled(commBandX, commTop, commBottom, commPoints, 2.5) });
panel({ box: [995, 46, 1147, 290.7], x: [0, 1003.8, .5, 1075], y: [.5, 263.3, .9, 86], xt: [0, .5], yt: [.5, .6, .7, .8, .9],
    sets: filled(sarBandX, sarTop, sarBottom, sarPoints, 2.5) });
panel({ box: [1190, 46, 1340, 290.7], x: [0, 1200, .5, 1270], y: [.4, 235, .8, 98.3], xt: [0, .5], yt: [.4, .6, .8],
    sets: filled(lamBandX, lamTop, lamBottom, lamPoints, 2.5) });

matrix(humanRows, [90, 486, 311, 706], 2, { "+": "#a0a0a0", "#": "#2a2a2a" });
matrix(nullRows, [385, 486, 606, 706], 1.25, { "+": "#a8a8a8", "#": "#3a3a3a" });
matrix(erdosRows, [836, 490, 1057, 710], 2.2, { "-": "#c8c8c8", "+": "#8a8a8a", "#": "#4a4a4a" });
matrix(baraRows, [1130, 490, 1351, 710], 2.2, { "-": "#dedede", "+": "#909090", "#": "#555" });

panel({ box: [76, 763, 325, 1009], x: [0, 89, .5, 207], y: [.4, 1004, .8, 791.7], xt: [0, .5], yt: [.4, .5, .6, .7, .8],
    sets: filled(humanBandX, humanTop, humanBottom, humanPoints, 2.5) });
panel({ box: [371, 763, 620, 1009], x: [0, 384, .5, 502.5], y: [.2, 996.7, .8, 770.7], xt: [0, .5], yt: [.2, .4, .6, .8],
    sets: filled(nullBandX, nullTop, nullBottom, nullPoints, 2.5) });
panel({ box: [821, 768, 1068, 1014.3], x: [.4, 910.7, .6, 1011], y: [0, 1001, .6, 801.7], xt: [.4, .6], yt: [0, .2, .4, .6],
    sets: filled(erdosBandX, erdosTop, erdosBottom, erdosPoints, 2.2) });
panel({ box: [1115, 768, 1362, 1014.3], x: [.4, 1172, .7, 1358], y: [0, 1001, .6, 779.3], xt: [.4, .5, .6, .7], yt: [0, .2, .4, .6],
    sets: filled(baraBandX, baraTop, baraBottom, baraPoints, 2.2) });

// the library paints the first dataset last, so the black core comes first
panel({ box: [478, 1170, 975, 1448.7], x: [0, 502, .8, 873], y: [.5, 1426.7, .8, 1216.7], xt: [0, .2, .4, .6, .8], yt: [.5, .6, .7, .8],
    xSpan: [0, .8], ySpan: [.5, .8], xTickMarks: true,
    sets: []
        .concat(band(coreX, coreTop, coreBottom, "#141414", 2))
        .concat([dots(trialPoints, "rgba(40,40,40,.5)", 1.9)])
        .concat(band(cloudInnerX, cloudInnerTop, cloudInnerBottom, "rgba(25,25,25,.6)", 0))
        .concat(band(cloudOuterX, cloudOuterTop, cloudOuterBottom, "rgba(70,70,70,.6)", 0))
        .concat(band(greyBandX, greyTop, greyBottom, "#b5b5b5", 2)) });

// panel letters, titles, axis titles
tag("A.", 19, -3); tag("B.", 712, -3); tag("C.", 19, 455); tag("D.", 712, 455); tag("E.", 405, 1148);
label("Macaque", 185, 28); label("Mouse", 481, 28);
label("Communicability", 873, 28); label("SAR", 1069, 28); label("LAM", 1265, 28);
label("Human", 200, 468); label("Null", 495, 468);
label("Erdos-Renyi", 946, 473); label("Barabasi", 1240, 473);
label("Structural Weights", 332, 330); label("Structural Weights", 1069, 330);
label("Structural Weights", 332, 1053); label("Structural Weights", 1092, 1058);
label("Shuffled Structural Weights", 687, 1487);
label("Influence", 10, 166, true); label("Estimated Influences", 744, 167, true);
label("Influence", 23, 885, true); label("Influence", 767, 890, true); label("Influence", 425, 1312, true);

// legend of panel E
trials.forEach((name, i) => {
    const y = 1183 + i * 33.35;
    const dot = document.createElement("div");
    dot.className = "dot";
    dot.style.left = "979px";
    dot.style.top = (y - 7) + "px";
    dot.style.background = trialColors[i];
    page.appendChild(dot);
    const t = document.createElement("div");
    t.className = "trial";
    t.textContent = name;
    t.style.left = "1004px";
    t.style.top = (y - 12) + "px";
    page.appendChild(t);
});
</script>
</body>
</html>
